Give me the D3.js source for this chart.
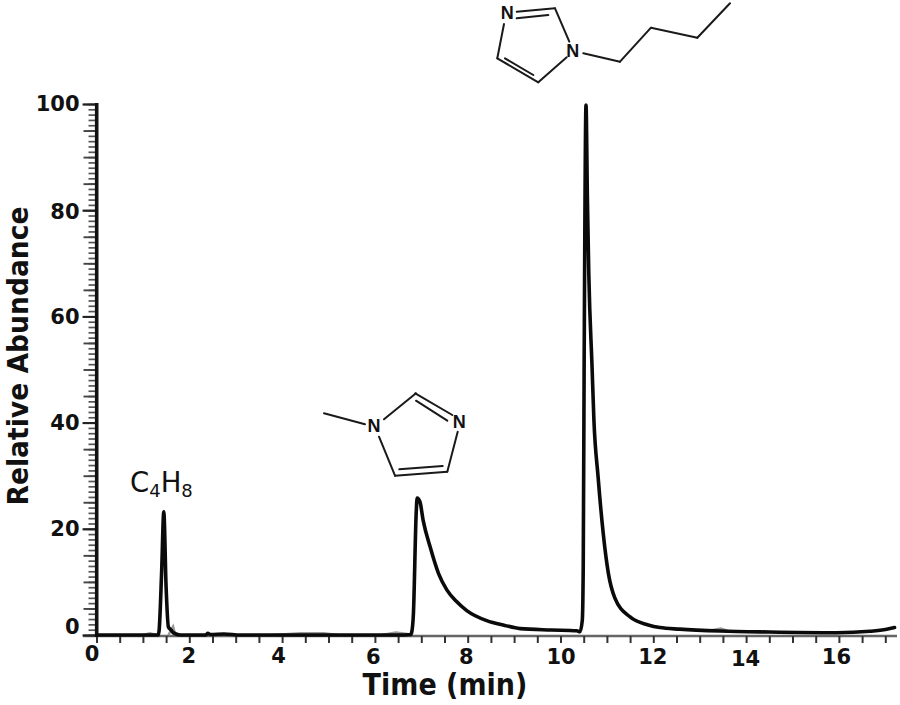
<!DOCTYPE html>
<html><head><meta charset="utf-8">
<script src="https://cdn.jsdelivr.net/npm/d3@7"></script>
<style>html,body{margin:0;background:#fff}svg{display:block}</style></head>
<body><svg id="c" width="900" height="705"></svg>
<script>
const traceTime=[0,1.0,1.33,1.35,1.405,1.45,1.5,1.55,1.6,1.66,1.8,2.35,2.4,2.46,2.75,3.1,3.5,5,6.5,6.77,6.79,6.83,6.89,6.91,6.97,7.04,7.19,7.37,7.55,7.76,7.98,8.41,8.8,9.13,9.8,10.35,10.42,10.47,10.49,10.51,10.55,10.58,10.61,10.68,10.72,10.81,10.92,11.03,11.17,11.5,11.89,12.14,12.57,13.44,14.5,15.95,16.67,17.03,17.2];
const traceValue=[0,0,0,.9,12.2,23.2,9,1.5,1,.4,0,0,.3,.1,.2,0,0,0,0,.1,.4,4,23,25.8,25.1,21.6,16.6,11.6,8.5,6.3,4.6,2.7,1.8,1.2,.95,.8,.6,2.8,13,51.8,99.8,82,68,50.5,40.5,29.8,19.2,11.7,7,3.4,1.9,1.4,1.1,.75,.56,.43,.7,1.07,1.4];
const noiseTime=[1.0,1.15,1.3,3.8,4.4,4.9,5.2,6.15,6.45,6.7,1.55,1.65,1.7,13.2,13.45,13.6];
const noiseValue=[0,.3,0,0,.35,.35,0,0,.45,.2,0,1.6,0,.8,1.2,.8];
const noiseGroups=[[0,3],[3,7],[7,10],[10,13],[13,16]];
const xMajor=[0,2,4,6,8,10,12,14,16];
const xMinor=d3.range(0,17.5,.5);
const yMajor=[0,20,40,60,80,100];
const yMid=d3.range(0,101,5);
const yMinor=d3.range(0,101,1);
const xLabelNudge=[-5,-1,-4,-2,-2,0,-1,-1,-3];
const yLabelNudge=[-8,0,0,0,2,0];
const xLabelLift=[-2,0,0,1,1,1,1,3,1];

const svg=d3.select('#c');
const x=d3.scaleLinear().domain([0,17.25]).range([96.5,896.9]);
const y=d3.scaleLinear().domain([0,100]).range([635,104]);
const FONT='"DejaVu Sans",Verdana,sans-serif';

const gx=svg.append('g').attr('transform','translate(0,636)');
gx.call(d3.axisBottom(x).tickValues(xMinor).tickSize(7).tickSizeOuter(0).tickFormat(''));
gx.select('.domain').attr('stroke','#666').attr('stroke-width',2.4).attr('d','M83,0H897');
gx.selectAll('.tick line').attr('stroke','#333').attr('stroke-width',2);

const xl=svg.append('g').attr('transform','translate(0,636)');
xl.call(d3.axisBottom(x).tickValues(xMajor).tickSize(0).tickPadding(0).tickFormat(d3.format('d')));
xl.select('.domain').remove();
xl.selectAll('text').attr('font-family',FONT).attr('font-weight',700).attr('font-size',21).attr('fill','#111')
  .attr('dx',(d,i)=>xLabelNudge[i]).attr('y',(d,i)=>26.5+xLabelLift[i]).attr('dy',0);

const tickGroup=(vals,len,w,col)=>{
  const g=svg.append('g').attr('transform','translate(96.5,0)');
  g.call(d3.axisLeft(y).tickValues(vals).tickSize(len).tickFormat(''));
  g.select('.domain').remove();
  g.selectAll('.tick line').attr('stroke',col).attr('stroke-width',w);
};
tickGroup(yMinor,8,1.7,'#555');
tickGroup(yMid,13,1.9,'#444');
tickGroup(yMajor,14,2,'#222');
svg.append('line').attr('x1',96.7).attr('x2',96.7).attr('y1',y(100)-1).attr('y2',y(0)+2).attr('stroke','#111').attr('stroke-width',3.6);

const yl=svg.append('g').attr('transform','translate(79.5,0)');
yl.call(d3.axisLeft(y).tickValues(yMajor).tickSize(0).tickPadding(0).tickFormat(d3.format('d')));
yl.select('.domain').remove();
yl.selectAll('text').attr('font-family',FONT).attr('font-weight',700).attr('font-size',21).attr('fill','#111')
  .attr('y',(d,i)=>yLabelNudge[i]);

const line=d3.line().x(d=>x(d[0])).y(d=>y(d[1]));
noiseGroups.forEach(([a,b])=>{
  svg.append('path').datum(d3.zip(noiseTime,noiseValue).slice(a,b)).attr('fill','none').attr('stroke','#999').attr('stroke-width',2.5).attr('d',line);
});
svg.append('path').datum(d3.zip(traceTime,traceValue)).attr('fill','none').attr('stroke','#0a0a0a').attr('stroke-width',3.6).attr('stroke-linejoin','round').attr('stroke-linecap','round').attr('d',line.curve(d3.curveMonotoneX));

svg.append('text').attr('transform','translate(445,695) scale(1,1.1)').attr('text-anchor','middle').attr('font-family',FONT).attr('font-weight',700).attr('font-size',27).attr('fill','#111').text('Time (min)');
svg.append('text').attr('transform','translate(28,356) rotate(-90) scale(1,1.08)').attr('text-anchor','middle').attr('font-family',FONT).attr('font-weight',700).attr('font-size',26.6).attr('fill','#111').text('Relative Abundance');

const formula=svg.append('text').attr('x',130).attr('y',491.5).attr('font-family',FONT).attr('font-size',27.5).attr('fill','#111');
formula.append('tspan').text('C');
formula.append('tspan').attr('font-size',18).attr('dy',5).text('4');
formula.append('tspan').attr('dy',-5).text('H');
formula.append('tspan').attr('font-size',18).attr('dy',5).text('8');

const bonds=[
 [324,413.3,365,424.3],[384,419.3,416,393.3],[415.3,393.3,452.3,415],[416,400.7,447.3,420.7],[457.7,431.7,447.3,471.7],[447.3,471.7,395,475.7],[442.7,466,399.3,469.3],[395,475.7,379,436.7],
 [516.7,11.7,555,8.3],[516.7,18.3,548.3,15],[555,8.3,569.3,41.7],[566.7,57.3,538.3,82.3],[538.3,82.3,497.3,58.3],[533.3,75,505,58.3],[497.3,58.3,504,24],
 [583.3,53.3,620,61.7],[620,61.7,651,27.7],[651,27.7,697.3,37.7],[697.3,37.7,730,3.3]];
svg.append('g').selectAll('line').data(bonds).join('line')
 .attr('x1',d=>d[0]).attr('y1',d=>d[1]).attr('x2',d=>d[2]).attr('y2',d=>d[3])
 .attr('stroke','#1a1a1a').attr('stroke-width',2).attr('stroke-linecap','round');
const atoms=[[374,425.7],[459.3,421.7],[507.3,12.3],[572.7,50.7]];
svg.append('g').selectAll('text').data(atoms).join('text')
 .attr('x',d=>d[0]).attr('y',d=>d[1]).attr('dy','0.36em').attr('text-anchor','middle')
 .attr('font-family','"Liberation Sans",Arial,sans-serif').attr('font-weight',700).attr('font-size',18).attr('fill','#111').text('N');
</script></body></html>
